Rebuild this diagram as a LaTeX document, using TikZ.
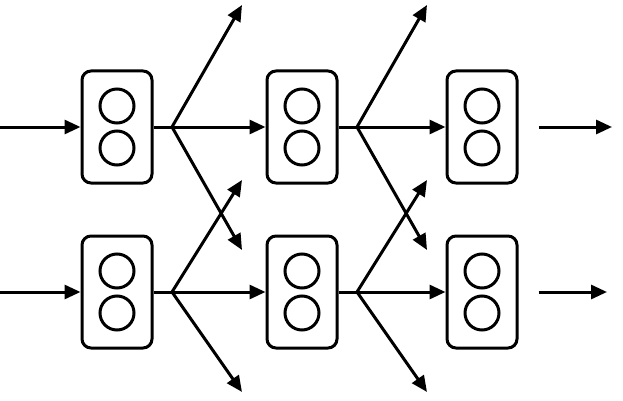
\documentclass[tikz,border=0pt]{standalone}
\usepackage{tikz}
\usetikzlibrary{positioning,arrows.meta}

\begin{document}
\begin{tikzpicture}[x=1pt,y=-1pt,
    cell/.style={draw, line width=3pt, rounded corners=9pt, minimum width=70pt, minimum height=112pt},
    dot/.style={draw, line width=3pt, circle, minimum size=34pt, inner sep=0pt},
    flow/.style={line width=3pt, -{Triangle[length=16pt,width=14pt]}}]
                \useasboundingbox (0,0) rectangle (623,401);

                % Cells, each holding two units
                \foreach \c/\x in {1/117,2/302,3/482}{
                    \foreach \r/\y in {1/127,2/292}{
                        \node[cell] (c\c\r) at (\x,\y) {};
                        \node[dot] (u\c\r a) at (\x,\y-21) {};
                        \node[dot] (u\c\r b) at (\x,\y+21) {};
                    }
                }

                % Inputs on the left
                \coordinate (in1) at (0,127);
                \coordinate (in2) at (0,292);
                \draw[flow] (in1) -- (c11.west);
                \draw[flow] (in2) -- (c12.west);

                % Forks between the columns
                \foreach \c/\x in {1/172,2/357}{
                    \coordinate (f\c1) at (\x,127);
                    \coordinate (f\c2) at (\x,292);
                    \coordinate (t\c1) at (\x+70,5);
                    \coordinate (t\c2) at (\x+70,250);
                    \coordinate (t\c3) at (\x+70,180);
                    \coordinate (t\c4) at (\x+70,392);
                    \draw[line width=3pt] (c\c1.east) -- (f\c1);
                    \draw[line width=3pt] (c\c2.east) -- (f\c2);
                    \draw[flow] (f\c1) -- (t\c1);
                    \draw[flow] (f\c1) -- (t\c2);
                    \draw[flow] (f\c2) -- (t\c3);
                    \draw[flow] (f\c2) -- (t\c4);
                }
                \draw[flow] (f11) -- (c21.west);
                \draw[flow] (f12) -- (c22.west);
                \draw[flow] (f21) -- (c31.west);
                \draw[flow] (f22) -- (c32.west);

                % Outputs on the right
                \coordinate (out1) at (612,127);
                \coordinate (out2) at (607,292);
                \draw[flow] ([xshift=20pt]c31.east) -- (out1);
                \draw[flow] ([xshift=20pt]c32.east) -- (out2);
\end{tikzpicture}
\end{document}
